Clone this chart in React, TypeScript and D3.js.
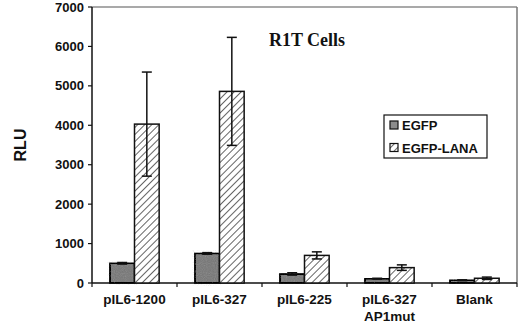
import React from 'react';
import { scaleBand, scaleLinear, range } from 'd3';

const width = 520;
const height = 327;

const categories = ['pIL6-1200', 'pIL6-327', 'pIL6-225', 'pIL6-327\nAP1mut', 'Blank'];
const seriesNames = ['EGFP', 'EGFP-LANA'];
const egfp = [500, 750, 230, 110, 70];
const egfpErr = [20, 20, 30, 10, 10];
const lana = [4030, 4860, 700, 390, 120];
const lanaErr = [1320, 1370, 90, 70, 30];
const yTicks = [0, 1000, 2000, 3000, 4000, 5000, 6000, 7000];

const left = 92;
const right = 517;
const top = 7;
const bottom = 283;

const x = scaleBand<string>().domain(categories).range([left, right]).paddingInner(0.42).paddingOuter(0.21);
const y = scaleLinear().domain([0, 7000]).range([bottom, top]);

const sans = "'Liberation Sans', Arial, sans-serif";
const bold = { fontWeight: 700 };

export default function App() {
    const bw = x.bandwidth() / 2;
    const series = [
        { vals: egfp, errs: egfpErr, fill: '#8c8c8c' },
        { vals: lana, errs: lanaErr, fill: 'url(#hatch)' },
    ];
    const step = (right - left) / categories.length;

    return (
        <svg width={width} height={height} style={{ position: 'absolute', left: 0, top: 0 }}>
            <defs>
                <pattern id="hatch" patternUnits="userSpaceOnUse" width="5" height="5" patternTransform="rotate(45)">
                    <rect width="5" height="5" fill="#fff" />
                    <line x1="0" y1="0" x2="0" y2="5" stroke="#111" strokeWidth="1.3" />
                </pattern>
                <filter id="grain">
                    <feTurbulence type="fractalNoise" baseFrequency="0.9" numOctaves="1" result="n" />
                    <feColorMatrix type="saturate" values="0" in="n" result="g" />
                    <feComposite in="SourceGraphic" in2="g" operator="arithmetic" k1="0" k2="1" k3="0.25" k4="-0.12" />
                </filter>
            </defs>

            {/* frame */}
            <line x1={left} x2={right} y1={top} y2={top} stroke="#555" strokeWidth={1.2} />
            <line x1={right} x2={right} y1={top} y2={bottom} stroke="#777" strokeWidth={1.5} />
            <line x1={left} x2={left} y1={top} y2={bottom} stroke="#111" strokeWidth={1.5} />
            <line x1={left} x2={right} y1={bottom} y2={bottom} stroke="#111" strokeWidth={1.5} />

            {yTicks.map(t => (
                <g key={t}>
                    <line x1={left - 4} x2={left} y1={y(t)} y2={y(t)} stroke="#111" strokeWidth={1.2} />
                    <text x={left - 8} y={y(t)} dy="0.35em" textAnchor="end" fontFamily={sans} style={bold} fontSize={13} fill="#111">{t}</text>
                </g>
            ))}
            {range(categories.length + 1).map(i => (
                <line key={i} x1={left + i * step} x2={left + i * step} y1={bottom} y2={bottom + 4} stroke="#111" strokeWidth={1.2} />
            ))}

            {categories.map((c, i) => (
                <g key={c}>
                    {series.map((s, j) => {
                        const bx = (x(c) as number) + j * bw;
                        const v = s.vals[i];
                        const e = s.errs[i];
                        const cx = bx + bw / 2;
                        return (
                            <g key={j}>
                                <rect x={bx} y={y(v)} width={bw} height={bottom - y(v)} fill={s.fill}
                                    stroke="#111" strokeWidth={1.5} filter={j === 0 ? 'url(#grain)' : undefined} />
                                <line x1={cx} x2={cx} y1={y(v + e)} y2={y(v - e)} stroke="#111" strokeWidth={1.5} />
                                <line x1={cx - 5} x2={cx + 5} y1={y(v + e)} y2={y(v + e)} stroke="#111" strokeWidth={1.5} />
                                <line x1={cx - 5} x2={cx + 5} y1={y(v - e)} y2={y(v - e)} stroke="#111" strokeWidth={1.5} />
                            </g>
                        );
                    })}
                    {c.split('\n').map((line, k) => (
                        <text key={k} x={(x(c) as number) + x.bandwidth() / 2} y={304 + k * 17} textAnchor="middle"
                            fontFamily={sans} style={bold} fontSize={13.5} fill="#111">{line}</text>
                    ))}
                </g>
            ))}

            <text x={307} y={46} textAnchor="middle" fontFamily="'Liberation Serif', 'Times New Roman', serif" style={bold} fontSize={18} fill="#111">R1T Cells</text>

            <text transform="translate(26,145) rotate(-90)" textAnchor="middle" fontFamily={sans} style={bold} fontSize={16} fill="#111">RLU</text>

            {/* legend */}
            <rect x={384} y={115} width={103} height={43} fill="#fff" stroke="#111" strokeWidth={1.2} />
            {seriesNames.map((n, i) => (
                <g key={n}>
                    <rect x={390} y={121 + i * 22.5} width={8} height={8} fill={series[i].fill} stroke="#111" strokeWidth={1.2} />
                    <text x={402} y={130 + i * 22.5} fontFamily={sans} style={bold} fontSize={13} fill="#111">{n}</text>
                </g>
            ))}
        </svg>
    );
}
